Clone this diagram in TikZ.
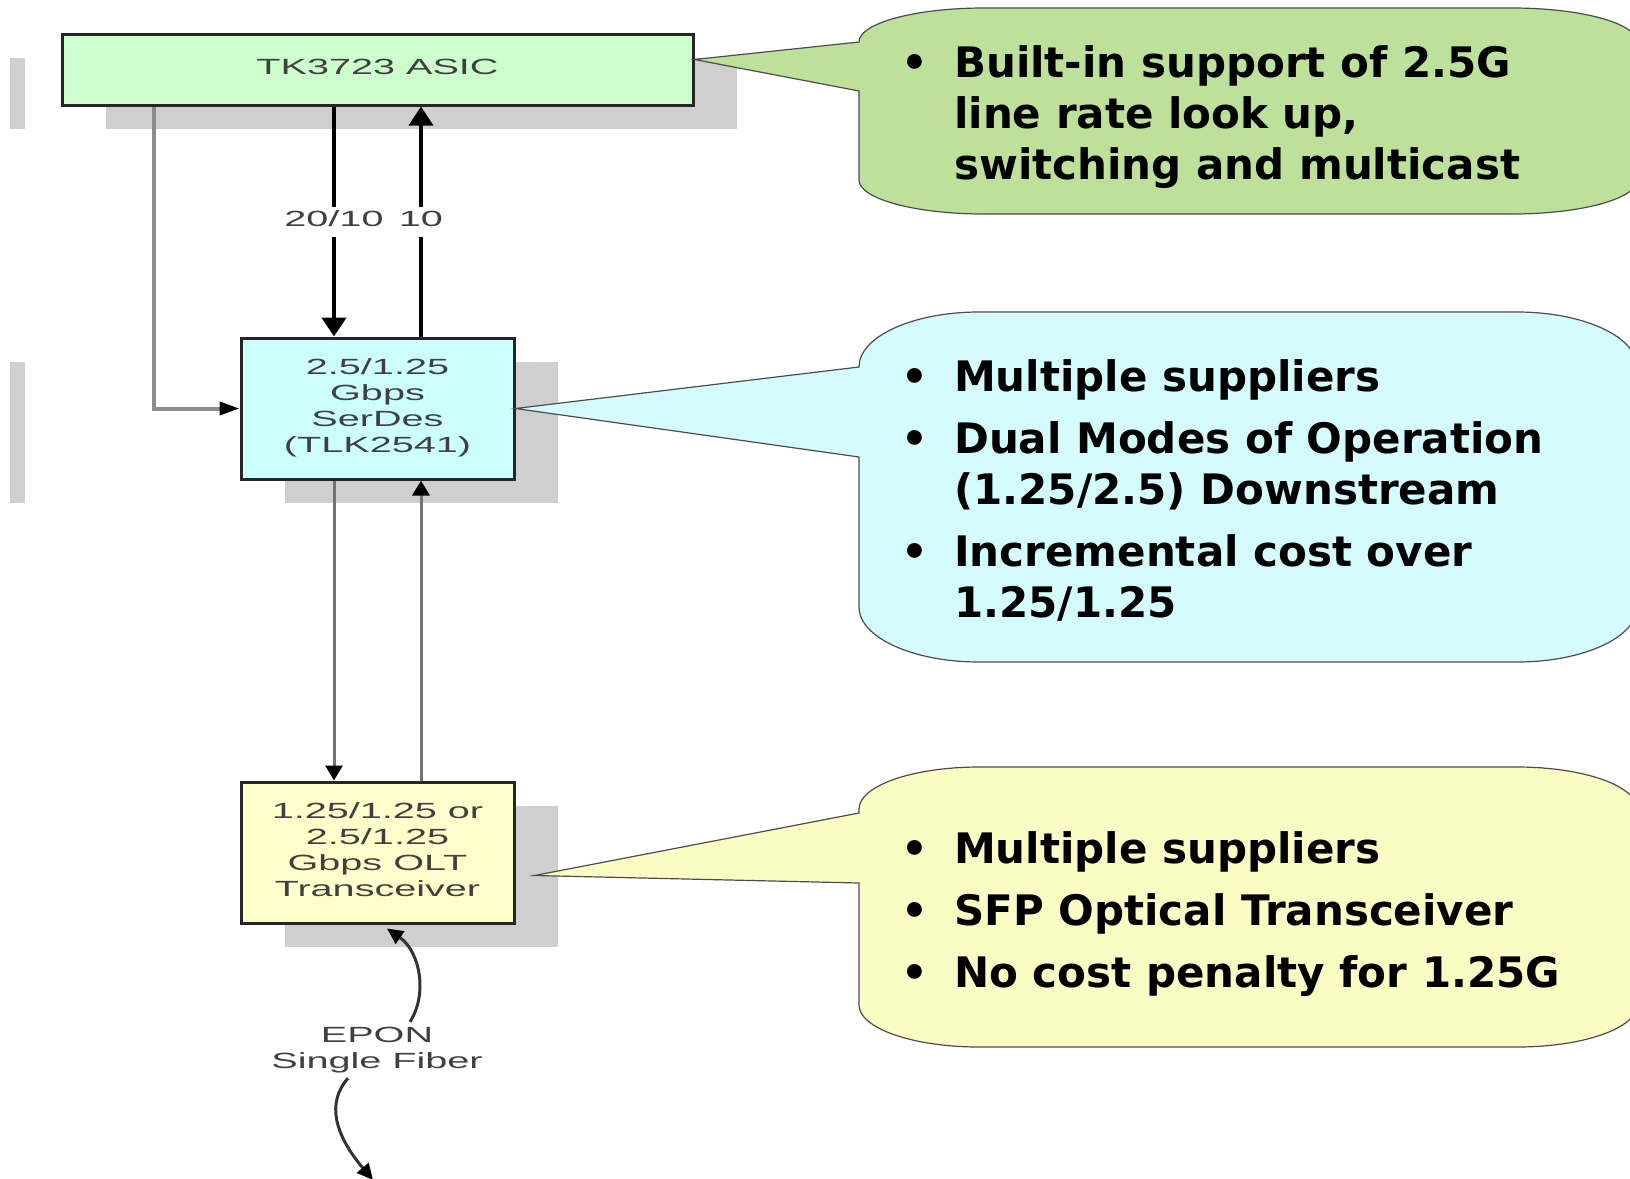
\documentclass[tikz,border=0pt]{standalone}
\usepackage{fontspec}
\usepackage{graphicx}
\setmainfont{Liberation Sans}
\newfontfamily\notefont{DejaVu Sans}
\usetikzlibrary{arrows.meta,positioning,shadows}

\definecolor{asicfill}{HTML}{CCFFCC}
\definecolor{serdesfill}{HTML}{CCFFFF}
\definecolor{trxfill}{HTML}{FFFFCC}
\definecolor{greennote}{HTML}{BDE09A}
\definecolor{cyannote}{HTML}{D4FBFD}
\definecolor{yellownote}{HTML}{FBFBC4}
\definecolor{shadowgrey}{HTML}{CFCFCF}

\newcommand{\widetxt}[1]{\scalebox{1.8}[1]{\begin{tabular}{@{}c@{}}#1\end{tabular}}}
\newcommand{\itm}{\makebox[53pt][l]{•}}

\tikzset{
  chip/.style={draw=black!85, line width=3pt, minimum width=273pt, minimum height=141pt,
    inner sep=0pt, text=black!75, font=\fontsize{22}{26}\selectfont,
    drop shadow={shadow xshift=44pt, shadow yshift=-24pt, fill=shadowgrey, opacity=1}},
  rate/.style={fill=white, inner sep=2pt, text=black!75, font=\fontsize{22}{26}\selectfont},
  bus/.style={line width=4.5pt, -{Triangle[length=19pt,width=24pt]}},
  feed/.style={draw=black!45, line width=4pt, -{Triangle[length=20pt,width=13pt,color=black]}},
  link/.style={draw=black!55, line width=3pt, -{Triangle[length=15pt,width=17pt,color=black]}},
  fiber/.style={draw=black!80, line width=3pt, -{Triangle[length=16pt,width=15pt,color=black]}},
  note/.style={draw=black!70, line width=1.2pt},
  notetext/.style={anchor=base west, inner sep=0pt, font=\notefont\bfseries\fontsize{42}{51}\selectfont}
}

\begin{document}
\begin{tikzpicture}[x=1pt,y=-1pt]
\useasboundingbox (0,0) rectangle (1630,1178);
\clip (0,0) rectangle (1630,1178);

% stray shadow strips at the left margin
\fill[shadowgrey] (10,58) rectangle (25,129);
\fill[shadowgrey] (10,362) rectangle (25,503);

% blocks
\node[chip, fill=asicfill, minimum width=631pt, minimum height=71pt] (asic) at (377.5,69.5) {\widetxt{TK3723 ASIC}};
\node[chip, fill=serdesfill] (serdes) at (377.5,408.5) {\widetxt{2.5/1.25\\Gbps\\SerDes\\(TLK2541)}};
\node[chip, fill=trxfill] (trx) at (377.5,852.5) {\widetxt{1.25/1.25 or\\2.5/1.25\\Gbps OLT\\Transceiver}};

% connectors
\draw[feed] ([xshift=-223.5pt]asic.south) |- (serdes.west);
\draw[bus] ([xshift=-43.5pt]asic.south) -- node[rate] (dnrate) {\widetxt{20/10}} ([xshift=-43.5pt]serdes.north);
\draw[bus, line width=3.5pt] ([xshift=43.5pt]serdes.north) -- node[rate] (uprate) {\widetxt{10}} ([xshift=43.5pt]asic.south);
\draw[link] ([xshift=-43.5pt]serdes.south) -- ([xshift=-43.5pt]trx.north);
\draw[link] ([xshift=43.5pt]trx.north) -- ([xshift=43.5pt]serdes.south);

% fiber
\node[rate] (epon) at (377,1050) {\widetxt{EPON\\Single Fiber}};
\coordinate (fiberend) at (373,1180);
\draw[fiber] ([xshift=33pt]epon.north) .. controls +(18,-28) and +(33,23) .. ([xshift=9.5pt,yshift=-4pt]trx.south);
\draw[fiber] ([xshift=-29pt]epon.south) .. controls +(-22,25) and +(-38,-45) .. (fiberend);

% callouts
\filldraw[note, fill=greennote] ([yshift=10pt]asic.east) -- (859,42)
  arc[start angle=180, end angle=270, x radius=125, y radius=34] -- (1512,8)
  arc[start angle=270, end angle=360, x radius=125, y radius=34] -- (1637,180)
  arc[start angle=0, end angle=90, x radius=125, y radius=34] -- (984,214)
  arc[start angle=90, end angle=180, x radius=125, y radius=34] -- (859,91) -- cycle;
\filldraw[note, fill=cyannote] (serdes.east) -- (859,367)
  arc[start angle=180, end angle=270, x radius=120, y radius=55] -- (1517,312)
  arc[start angle=270, end angle=360, x radius=120, y radius=55] -- (1637,607)
  arc[start angle=0, end angle=90, x radius=120, y radius=55] -- (979,662)
  arc[start angle=90, end angle=180, x radius=120, y radius=55] -- (859,457) -- cycle;
\filldraw[note, fill=yellownote] ([xshift=19pt,yshift=-23pt]trx.east) -- (859,813) -- (859,809)
  arc[start angle=180, end angle=270, x radius=120, y radius=42] -- (1517,767)
  arc[start angle=270, end angle=360, x radius=120, y radius=42] -- (1637,1005)
  arc[start angle=0, end angle=90, x radius=120, y radius=42] -- (979,1047)
  arc[start angle=90, end angle=180, x radius=120, y radius=42] -- (859,883) -- cycle;

\node[notetext] (asicnote) at (901,77) {\begin{tabular}[t]{@{}l@{}l@{}}
  \itm & Built-in support of 2.5G\\
       & line rate look up,\\
       & switching and multicast
  \end{tabular}};
\node[notetext] (serdesnote) at (901,391) {\begin{tabular}[t]{@{}l@{}l@{}}
  \itm & Multiple suppliers\\[11pt]
  \itm & Dual Modes of Operation\\
       & (1.25/2.5) Downstream\\[11pt]
  \itm & Incremental cost over\\
       & 1.25/1.25
  \end{tabular}};
\node[notetext] (trxnote) at (901,863) {\begin{tabular}[t]{@{}l@{}l@{}}
  \itm & Multiple suppliers\\[11pt]
  \itm & SFP Optical Transceiver\\[11pt]
  \itm & No cost penalty for 1.25G
  \end{tabular}};
\end{tikzpicture}
\end{document}
